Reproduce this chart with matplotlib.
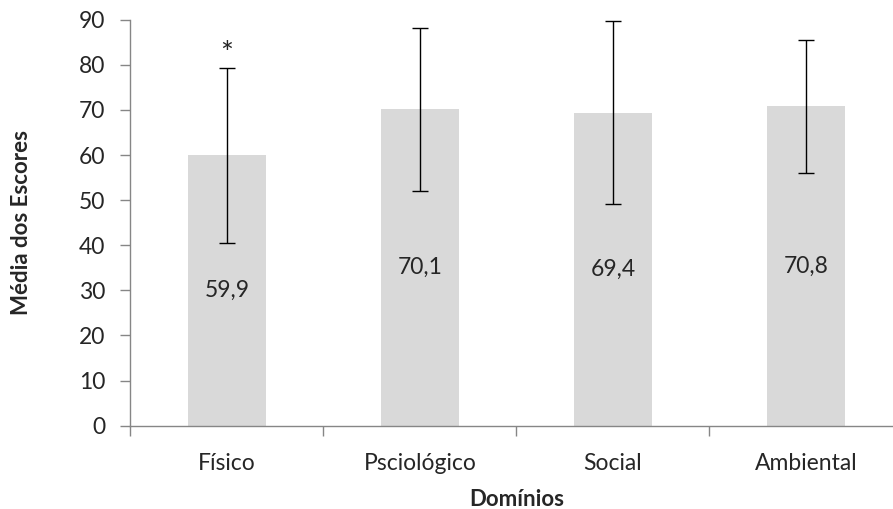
import numpy as np
import matplotlib.pyplot as plt
from matplotlib.ticker import FixedLocator

plt.rcParams['font.family'] = ['Lato', 'DejaVu Sans']

dominios = ['Físico', 'Psciológico', 'Social', 'Ambiental']
medias = [59.9, 70.1, 69.4, 70.8]
desvios = [19.5, 18.1, 20.3, 14.7]
rotulos = ['59,9', '70,1', '69,4', '70,8']

TXT = '#262626'
AXC = '#868686'

fig = plt.figure(figsize=(8.93, 5.09), dpi=100)
ax = fig.add_axes([0.1461, 0.1637, 0.8645, 0.7976])

x = np.arange(len(dominios))
ax.bar(x, medias, width=0.4, color='#D9D9D9', zorder=2)
ax.errorbar(x, medias, yerr=desvios, fmt='none', ecolor='black',
            elinewidth=1.0, capsize=5.5, capthick=1.0, zorder=3)

for xi, m, r in zip(x, medias, rotulos):
    ax.text(xi, m / 2, r, ha='center', va='center', fontsize=16.5, color=TXT)

# significance mark over Físico
ax.text(x[0], medias[0] + desvios[0] + 3.0, '*', ha='center', va='center',
        fontsize=22, color=TXT)

ax.set_xlim(-0.5, len(dominios) - 0.5)
ax.set_ylim(0, 90)
ax.set_yticks(np.arange(0, 91, 10))

ax.set_xticks(x)
ax.set_xticklabels(dominios)
ax.xaxis.set_minor_locator(FixedLocator(np.arange(-0.5, len(dominios), 1.0)))
ax.tick_params(axis='x', which='major', length=0, pad=20, labelsize=16.5,
               labelcolor=TXT)
ax.tick_params(axis='x', which='minor', length=7, width=1, color=AXC,
               direction='out')
ax.tick_params(axis='y', length=7, width=1, color=AXC, pad=11,
               labelsize=16.5, labelcolor=TXT)

for s in ['top', 'right']:
    ax.spines[s].set_visible(False)
for s in ['left', 'bottom']:
    ax.spines[s].set_color(AXC)
    ax.spines[s].set_linewidth(1)

ax.set_xlabel('Domínios', fontsize=16, fontweight='bold', color=TXT)
ax.xaxis.set_label_coords(0.5, -0.155)
ax.set_ylabel('Média dos Escores', fontsize=16, fontweight='bold', color=TXT)
ax.yaxis.set_label_coords(-0.128, 0.5)

fig.savefig('out.png', dpi=100)
